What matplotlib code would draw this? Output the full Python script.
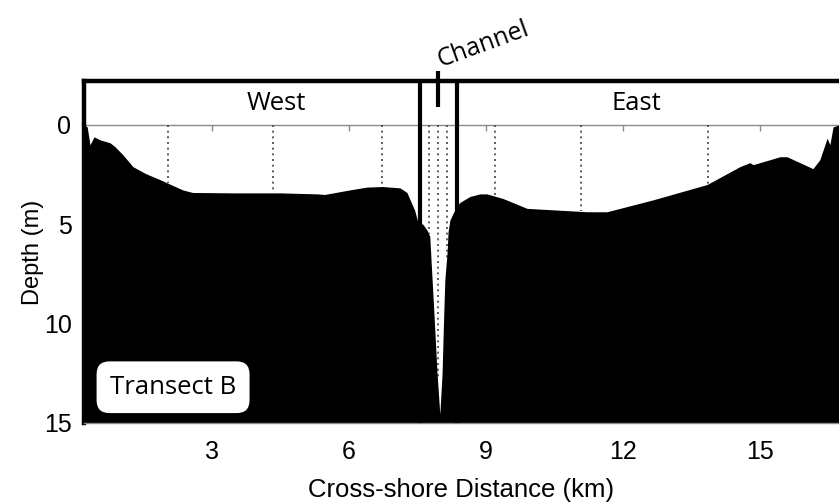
import numpy as np
import matplotlib
matplotlib.use("Agg")
import matplotlib.pyplot as plt

# ---- data ----
dist_km = [0.20, 0.27, 0.33, 0.42, 0.55, 0.77, 0.88, 1.05, 1.27, 1.55, 1.86, 2.10,
           2.36, 2.58, 3.50, 4.50, 5.30, 5.47, 6.02, 6.39, 6.74, 7.12, 7.27, 7.44,
           7.51, 7.62, 7.71, 7.77, 7.85, 7.93, 7.99, 8.04, 8.07, 8.10, 8.15, 8.17,
           8.21, 8.28, 8.36, 8.43, 8.65, 8.87, 9.02, 9.37, 9.90, 11.21, 11.65, 12.66,
           13.84, 14.56, 14.78, 14.85, 15.44, 15.59, 16.16, 16.31, 16.47, 16.53,
           16.60, 16.73]
depth_m = [0.0, 0.1, 1.0, 0.6, 0.75, 0.9, 1.1, 1.5, 2.1, 2.45, 2.75, 3.0,
           3.27, 3.4, 3.42, 3.42, 3.47, 3.5, 3.27, 3.13, 3.1, 3.17, 3.4, 4.3,
           4.9, 5.0, 5.3, 5.6, 9.0, 12.5, 14.55, 12.5, 10.0, 7.8, 6.4, 5.4,
           4.8, 4.45, 4.1, 3.9, 3.6, 3.47, 3.47, 3.7, 4.2, 4.37, 4.37, 3.77,
           3.0, 2.1, 1.9, 2.0, 1.6, 1.6, 2.2, 1.75, 0.67, 1.0,
           0.1, 0.0]
station_km = [2.03, 4.33, 6.72, 7.75, 7.94, 8.14, 9.19, 11.09, 13.87]
channel_edges_km = [7.55, 8.36]
channel_mark_km = 7.95
xticks = [3, 6, 9, 12, 15]
yticks = [0, 5, 10, 15]
region_labels = ["West", "East"]
region_label_x = [4.42, 12.3]

W, H = 839, 503
fig = plt.figure(figsize=(W / 100, H / 100), dpi=100)
ax = fig.add_axes([84 / W, 1 - 423 / H, (W - 84) / W, (423 - 81) / H])
ax.set_xlim(0.2, 16.73)
ax.set_ylim(15, -2.21)

tick_font = "Liberation Sans"
label_font = "Open Sans"

# terrain
ax.fill_between(dist_km, depth_m, 15, color="black", lw=0, zorder=2)

# zero line and small ticks on it
ax.axhline(0, color="#8a8a8a", lw=1.0, zorder=1)
ax.vlines(xticks, 0, 0.3, color="#8a8a8a", lw=1.0, zorder=1)

# station dotted lines down to the bed
st_depth = np.interp(station_km, dist_km, depth_m)
for xs, d in zip(station_km, st_depth):
    ax.plot([xs, xs], [0, d], color="#444444", lw=1.2, ls=(0, (1.2, 2.2)), zorder=1)

# channel box lines
ax.vlines(channel_edges_km, -2.21, 15, color="black", lw=3.0, zorder=3)
ax.plot([channel_mark_km, channel_mark_km], [-2.7, -0.9], color="black", lw=3.0,
        clip_on=False, zorder=4, solid_capstyle="butt")
ax.text(channel_mark_km + 1.0, -4.05, "Channel", rotation=20, ha="center", va="center",
        fontsize=18, family=label_font)

# region labels
for lbl, xl in zip(region_labels, region_label_x):
    ax.text(xl, -1.1, lbl, ha="center", va="center", fontsize=18.5, family=label_font)

# transect label
ax.text(2.15, 13.2, "Transect B", ha="center", va="center", fontsize=18.5, family=label_font,
        bbox=dict(boxstyle="round,pad=0.52,rounding_size=0.5", fc="white", ec="none"),
        zorder=5)

# spines
ax.spines["right"].set_visible(False)
ax.spines["top"].set_linewidth(3.2)
ax.spines["left"].set_linewidth(3.2)
ax.spines["bottom"].set_color("#8a8a8a")
ax.spines["bottom"].set_linewidth(1.0)

ax.set_xticks(xticks)
ax.set_yticks(yticks)
ax.tick_params(axis="x", length=0, labelsize=18, pad=12)
ax.tick_params(axis="y", length=0, labelsize=18, pad=9)
for t in ax.get_xticklabels() + ax.get_yticklabels():
    t.set_family(tick_font)
ax.set_xlabel("Cross-shore Distance (km)", fontsize=18.5, family=tick_font, labelpad=10)
ax.set_ylabel("Depth (m)", fontsize=17, family=tick_font, labelpad=0)

fig.savefig("out.png", dpi=100)
